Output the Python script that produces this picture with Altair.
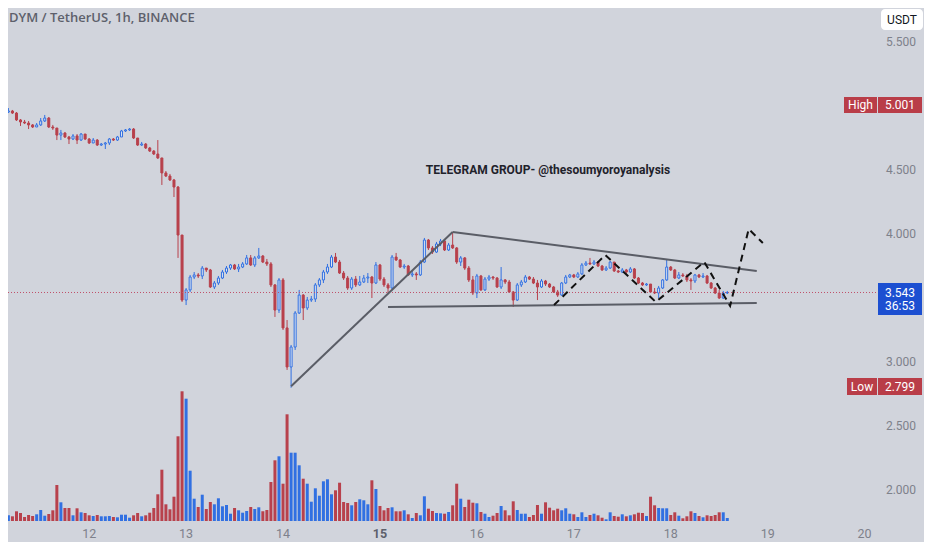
import altair as alt
import pandas as pd

# ---------------- data (hours relative to the 12th, 00:00) ----------------
FIRST_HOUR = -21
FIRST_OPEN = 4.945
CLOSE = [
    4.953, 4.961, 4.945, 4.891, 4.875, 4.867, 4.852, 4.836, 4.852, 4.883,
    4.906, 4.836, 4.828, 4.773, 4.789, 4.758, 4.742, 4.766, 4.734, 4.781,
    4.742, 4.711, 4.734, 4.695, 4.703, 4.711, 4.742, 4.734, 4.758, 4.805,
    4.813, 4.820, 4.750, 4.695, 4.703, 4.672, 4.648, 4.625, 4.594, 4.477,
    4.453, 4.422, 4.367, 3.992, 3.484, 3.563, 3.664, 3.680, 3.672, 3.734,
    3.719, 3.586, 3.617, 3.656, 3.703, 3.734, 3.758, 3.727, 3.742, 3.766,
    3.813, 3.758, 3.813, 3.828, 3.781, 3.766, 3.602, 3.406, 3.641, 3.266,
    2.961, 3.117, 3.383, 3.523, 3.422, 3.484, 3.492, 3.602, 3.641, 3.703,
    3.742, 3.820, 3.781, 3.695, 3.656, 3.578, 3.648, 3.602, 3.625, 3.656,
    3.664, 3.617, 3.758, 3.648, 3.602, 3.578, 3.820, 3.797, 3.742, 3.750,
    3.680, 3.688, 3.680, 3.781, 3.953, 3.891, 3.859, 3.922, 3.945, 3.875,
    3.914, 3.891, 3.781, 3.813, 3.734, 3.641, 3.539, 3.672, 3.563, 3.648,
    3.664, 3.656, 3.586, 3.641, 3.625, 3.547, 3.484, 3.602, 3.625, 3.664,
    3.648, 3.617, 3.586, 3.633, 3.609, 3.586, 3.547, 3.523, 3.617, 3.664,
    3.680, 3.664, 3.688, 3.758, 3.773, 3.766, 3.781, 3.750, 3.719, 3.734,
    3.781, 3.711, 3.703, 3.719, 3.703, 3.727, 3.656, 3.617, 3.602, 3.609,
    3.547, 3.539, 3.578, 3.641, 3.742, 3.719, 3.656, 3.680, 3.672, 3.641,
    3.633, 3.680, 3.664, 3.672, 3.617, 3.578, 3.539, 3.500, 3.539, 3.543,
]
HIGH = [
    4.969, 4.984, 4.969, 4.953, 4.898, 4.891, 4.883, 4.859, 4.867, 4.906,
    4.930, 4.914, 4.852, 4.828, 4.813, 4.797, 4.766, 4.781, 4.781, 4.789,
    4.781, 4.750, 4.750, 4.742, 4.711, 4.719, 4.750, 4.750, 4.766, 4.813,
    4.820, 4.828, 4.828, 4.750, 4.719, 4.711, 4.680, 4.656, 4.734, 4.594,
    4.492, 4.469, 4.430, 4.375, 3.992, 3.578, 3.680, 3.703, 3.695, 3.750,
    3.734, 3.727, 3.633, 3.672, 3.719, 3.750, 3.766, 3.766, 3.766, 3.781,
    3.836, 3.836, 3.828, 3.891, 3.836, 3.805, 3.781, 3.609, 3.656, 3.656,
    3.328, 3.133, 3.398, 3.563, 3.531, 3.508, 3.516, 3.617, 3.656, 3.719,
    3.766, 3.836, 3.852, 3.797, 3.711, 3.672, 3.664, 3.672, 3.672, 3.680,
    3.695, 3.672, 3.781, 3.766, 3.664, 3.617, 3.836, 3.852, 3.805, 3.766,
    3.758, 3.711, 3.703, 3.797, 3.969, 3.961, 3.906, 3.938, 3.961, 3.953,
    3.930, 4.016, 3.898, 3.828, 3.820, 3.750, 3.672, 3.688, 3.680, 3.664,
    3.680, 3.672, 3.664, 3.742, 3.648, 3.641, 3.555, 3.617, 3.641, 3.680,
    3.672, 3.664, 3.641, 3.648, 3.641, 3.617, 3.594, 3.563, 3.625, 3.680,
    3.688, 3.688, 3.703, 3.773, 3.789, 3.813, 3.797, 3.789, 3.758, 3.750,
    3.789, 3.781, 3.719, 3.734, 3.727, 3.742, 3.734, 3.664, 3.625, 3.617,
    3.609, 3.578, 3.594, 3.648, 3.797, 3.750, 3.727, 3.703, 3.695, 3.688,
    3.656, 3.688, 3.688, 3.695, 3.680, 3.625, 3.586, 3.563, 3.555, 3.555,
]
LOW = [
    4.938, 4.945, 4.938, 4.883, 4.844, 4.859, 4.820, 4.828, 4.836, 4.844,
    4.875, 4.828, 4.813, 4.734, 4.734, 4.750, 4.703, 4.734, 4.703, 4.727,
    4.734, 4.703, 4.711, 4.688, 4.688, 4.664, 4.695, 4.727, 4.727, 4.758,
    4.797, 4.805, 4.742, 4.688, 4.688, 4.664, 4.641, 4.617, 4.586, 4.383,
    4.445, 4.414, 4.289, 3.813, 3.469, 3.445, 3.547, 3.648, 3.656, 3.648,
    3.703, 3.578, 3.570, 3.602, 3.648, 3.688, 3.719, 3.719, 3.703, 3.734,
    3.758, 3.750, 3.742, 3.805, 3.773, 3.750, 3.586, 3.352, 3.383, 3.250,
    2.938, 2.799, 3.094, 3.375, 3.328, 3.406, 3.469, 3.469, 3.586, 3.617,
    3.688, 3.734, 3.773, 3.688, 3.641, 3.563, 3.563, 3.586, 3.594, 3.617,
    3.617, 3.500, 3.609, 3.633, 3.586, 3.539, 3.570, 3.789, 3.734, 3.727,
    3.672, 3.664, 3.641, 3.672, 3.773, 3.875, 3.844, 3.852, 3.906, 3.867,
    3.867, 3.883, 3.766, 3.750, 3.719, 3.625, 3.523, 3.500, 3.555, 3.555,
    3.633, 3.641, 3.578, 3.570, 3.609, 3.539, 3.430, 3.477, 3.586, 3.617,
    3.641, 3.609, 3.484, 3.578, 3.594, 3.578, 3.539, 3.508, 3.516, 3.609,
    3.656, 3.656, 3.656, 3.680, 3.750, 3.758, 3.758, 3.742, 3.711, 3.711,
    3.727, 3.703, 3.695, 3.695, 3.688, 3.695, 3.648, 3.609, 3.594, 3.594,
    3.539, 3.531, 3.500, 3.570, 3.633, 3.711, 3.648, 3.648, 3.664, 3.625,
    3.563, 3.617, 3.656, 3.656, 3.609, 3.570, 3.531, 3.492, 3.492, 3.531,
]
VOLUME = [
    6.3, 5.7, 4.7, 9.7, 8.0, 4.0, 6.0, 5.0, 6.7, 11.0,
    5.3, 7.0, 10.7, 36.0, 18.7, 13.0, 13.0, 5.7, 12.7, 8.7,
    8.0, 5.7, 5.0, 6.0, 4.7, 4.7, 5.0, 4.0, 3.7, 6.3,
    6.3, 3.3, 5.7, 8.0, 4.7, 5.7, 8.3, 13.0, 26.7, 51.3,
    16.7, 11.7, 24.3, 84.7, 129.7, 122.3, 50.3, 22.3, 14.0, 26.3,
    12.0, 19.0, 16.7, 22.7, 14.7, 16.0, 7.3, 13.0, 10.7, 8.3,
    10.0, 14.0, 12.0, 13.7, 9.7, 11.0, 39.0, 60.7, 64.7, 37.3,
    106.7, 68.3, 68.3, 55.7, 42.3, 37.3, 19.3, 32.7, 25.3, 39.7,
    41.7, 26.7, 30.7, 38.3, 19.0, 18.0, 15.7, 19.0, 21.7, 20.7,
    16.7, 40.7, 32.0, 15.0, 10.7, 13.0, 13.7, 9.7, 9.7, 10.7,
    6.7, 3.0, 8.0, 5.7, 24.7, 12.3, 10.0, 8.0, 7.7, 7.3,
    9.0, 15.7, 37.3, 22.3, 14.0, 21.3, 18.3, 17.7, 9.0, 7.3,
    4.0, 5.3, 8.0, 15.0, 10.7, 5.7, 19.7, 11.0, 7.3, 7.3,
    4.0, 6.0, 16.0, 7.3, 18.7, 13.3, 10.7, 12.3, 10.7, 12.7,
    7.3, 6.7, 4.0, 8.7, 4.0, 6.0, 7.3, 5.7, 3.3, 1.7,
    8.7, 5.0, 4.3, 6.7, 4.7, 5.7, 6.7, 8.3, 8.0, 5.0,
    24.3, 15.7, 13.0, 12.7, 12.7, 6.0, 8.7, 5.3, 2.7, 4.7,
    9.7, 8.0, 5.0, 3.7, 5.7, 5.0, 6.0, 8.7, 8.7, 3.0,
]

DAY_LABELS = ["12", "13", "14", "16", "17", "18", "19", "20"]
DAY_HOURS = [0, 24, 48, 96, 120, 144, 168, 192]
BOLD_DAY_LABEL = ["15"]
BOLD_DAY_HOUR = [72]

PRICE_TICKS = [5.5, 4.5, 4.0, 3.0, 2.5, 2.0]
PRICE_TICK_LABELS = ["5.500", "4.500", "4.000", "3.000", "2.500", "2.000"]

LAST_PRICE = 3.543
LAST_PRICE_LABEL = "3.543"
COUNTDOWN = "36:53"
HIGH_LABEL = "5.001"
LOW_LABEL = "2.799"

# author's drawings (hour, price)
TL_SEG = ["rise", "rise", "top", "top", "base", "base"]
TL_HOUR = [50.0, 90.0, 90.0, 165.3, 74.0, 165.3]
TL_PRICE = [2.81, 4.016, 4.016, 3.711, 3.430, 3.461]
ZZ_HOUR = [115.1, 127.8, 140.3, 152.3, 158.7, 163.3, 166.8]
ZZ_PRICE = [3.445, 3.836, 3.469, 3.781, 3.438, 4.039, 3.930]

TITLE = "DYM / TetherUS, 1h, BINANCE"
NOTE = "TELEGRAM GROUP- @thesoumyoroyanalysis"

# ---------------- styling ----------------
BG = "#d1d4dc"
RED = "#b8414c"
BLUE = "#3170e2"
HOLLOW = "#e3e7ee"
LABEL_RED = "#b93d48"
LABEL_BLUE = "#1c4fd1"
AXIS_TXT = "#7e818b"
FONT = "Roboto"

X_DOMAIN = [-18.86, 205.47]
P_DOMAIN = [1.59375, 5.765625]
V_DOMAIN = [-21, 513]

xs = alt.Scale(domain=X_DOMAIN, nice=False, zero=False)
ys = alt.Scale(domain=P_DOMAIN, nice=False, zero=False)
vs = alt.Scale(domain=V_DOMAIN, nice=False, zero=False)

hours = list(range(FIRST_HOUR, FIRST_HOUR + len(CLOSE)))
opens = [FIRST_OPEN] + CLOSE[:-1]
df = pd.DataFrame({"h": hours, "open": opens, "close": CLOSE,
                   "high": HIGH, "low": LOW, "vol": VOLUME})

up = alt.datum.close >= alt.datum.open
X = alt.X("h:Q", scale=xs, axis=None)

base = alt.Chart(df)

volume = base.mark_bar(orient="vertical", size=3, clip=True).encode(
    x=X,
    y=alt.Y("vol:Q", scale=vs, axis=None),
    y2=alt.Y2(datum=0),
    color=alt.condition(up, alt.value(BLUE), alt.value(RED)),
)

wicks = base.mark_rule(strokeWidth=1, clip=True).encode(
    x=X,
    y=alt.Y("low:Q", scale=ys, axis=None),
    y2="high:Q",
    color=alt.condition(up, alt.value(BLUE), alt.value(RED)),
)

bodies = base.mark_bar(orient="vertical", size=2, strokeWidth=1, clip=True).encode(
    x=X,
    y=alt.Y("open:Q", scale=ys, axis=None),
    y2="close:Q",
    fill=alt.condition(up, alt.value(HOLLOW), alt.value(RED)),
    stroke=alt.condition(up, alt.value(BLUE), alt.value(RED)),
)

last_line = alt.Chart(pd.DataFrame({"p": [LAST_PRICE]})).mark_rule(
    strokeDash=[1, 2], color="#c0506a", strokeWidth=1
).encode(y=alt.Y("p:Q", scale=ys, axis=None), x=alt.value(0), x2=alt.value(870))

tl_df = pd.DataFrame({"seg": TL_SEG, "h": TL_HOUR, "p": TL_PRICE})
trend = alt.Chart(tl_df).mark_line(color="#5a5d66", strokeWidth=2).encode(
    x=alt.X("h:Q", scale=xs, axis=None),
    y=alt.Y("p:Q", scale=ys, axis=None),
    detail="seg:N",
)

zz_df = pd.DataFrame({"h": ZZ_HOUR, "p": ZZ_PRICE, "o": list(range(len(ZZ_HOUR)))})
zigzag = alt.Chart(zz_df).mark_line(color="#111111", strokeWidth=2, strokeDash=[7, 5]).encode(
    x=alt.X("h:Q", scale=xs, axis=None),
    y=alt.Y("p:Q", scale=ys, axis=None),
    order="o:Q",
)

def txt(text, x, y, size=12, color="white", weight="normal", align="center", font=FONT):
    return alt.Chart(pd.DataFrame({"t": [text]})).mark_text(
        fontSize=size, color=color, fontWeight=weight, align=align,
        baseline="middle", font=font
    ).encode(text="t:N", x=alt.value(x), y=alt.value(y))

def box(x1, x2, y1, y2, color, radius=0):
    return alt.Chart(pd.DataFrame({"a": [0]})).mark_rect(
        color=color, cornerRadius=radius
    ).encode(x=alt.value(x1), x2=alt.value(x2), y=alt.value(y1), y2=alt.value(y2))

price_labels = alt.Chart(pd.DataFrame({"p": PRICE_TICKS, "t": PRICE_TICK_LABELS})).mark_text(
    fontSize=12, color=AXIS_TXT, align="center", baseline="middle", font=FONT
).encode(y=alt.Y("p:Q", scale=ys, axis=None), x=alt.value(893), text="t:N")

day_labels = alt.Chart(pd.DataFrame({"h": DAY_HOURS, "t": DAY_LABELS})).mark_text(
    fontSize=12.5, color=AXIS_TXT, align="center", baseline="middle", font=FONT
).encode(x=alt.X("h:Q", scale=xs, axis=None), y=alt.value(526), text="t:N")

bold_day = alt.Chart(pd.DataFrame({"h": BOLD_DAY_HOUR, "t": BOLD_DAY_LABEL})).mark_text(
    fontSize=12.5, color="#5d606b", fontWeight="bold", align="center", baseline="middle", font=FONT
).encode(x=alt.X("h:Q", scale=xs, axis=None), y=alt.value(526), text="t:N")

layers = [
    volume, wicks, bodies, last_line, trend, zigzag,
    price_labels, day_labels, bold_day,
    txt(TITLE, 1, 10, size=13, color="#5d606b", weight=600, align="left", font="Open Sans"),
    txt(NOTE, 540, 162, size=12, color="#1f222b", weight="bold"),
    box(873, 915, 1, 22, "white", radius=4),
    txt("USDT", 894, 11.5, size=12, color="#131722"),
    box(836, 869, 89, 105, LABEL_RED),
    box(870, 914, 89, 105, LABEL_RED),
    txt("High", 852.5, 97),
    txt(HIGH_LABEL, 892, 97),
    box(870, 914, 275, 307, LABEL_BLUE),
    txt(LAST_PRICE_LABEL, 892, 285),
    txt(COUNTDOWN, 892, 298),
    box(839, 869, 370, 387, LABEL_RED),
    box(870, 914, 370, 387, LABEL_RED),
    txt("Low", 854, 378.5),
    txt(LOW_LABEL, 892, 378.5),
]

chart = alt.layer(*layers).resolve_scale(y="independent").properties(
    width=916, height=534, background=BG, padding=0, autosize="none"
).configure_view(stroke=None)

chart.save("out.html", embed_options={"renderer": "svg", "actions": False})
